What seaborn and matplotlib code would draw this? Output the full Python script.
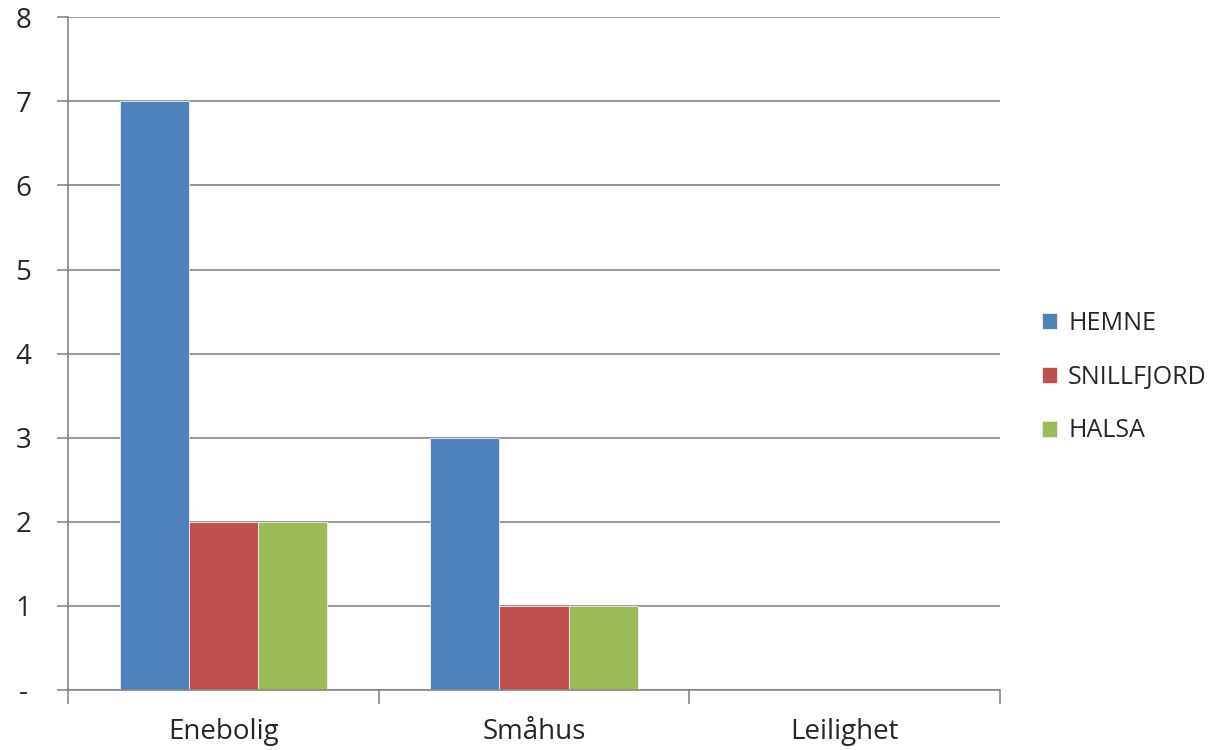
import matplotlib
matplotlib.use("Agg")
import matplotlib.pyplot as plt
import seaborn as sns
import pandas as pd

categories = ["Enebolig", "Småhus", "Leilighet"]
series = ["HEMNE", "SNILLFJORD", "HALSA"]
hemne = [7, 3, 0]
snillfjord = [2, 1, 0]
halsa = [2, 1, 0]
colors = ["#4F81BD", "#C0504D", "#9BBB59"]
ytick_labels = ["-", "1", "2", "3", "4", "5", "6", "7", "8"]

rows = []
for name, vals in zip(series, [hemne, snillfjord, halsa]):
    for cat, v in zip(categories, vals):
        rows.append({"Kategori": cat, "Kommune": name, "Antall": v})
df = pd.DataFrame(rows)

sns.set_style("white")
plt.rcParams["font.family"] = ["Open Sans", "DejaVu Sans"]

fig = plt.figure(figsize=(12.3, 7.5), dpi=100)
ax = fig.add_axes([0.0553, 0.08, 0.7577, 0.897])

sns.barplot(
    data=df,
    x="Kategori",
    y="Antall",
    hue="Kommune",
    palette=colors,
    width=0.667,
    gap=0,
    errorbar=None,
    edgecolor="#eeeeee",
    linewidth=0.6,
    saturation=1,
    ax=ax,
)

grid_col = "#868686"
ax.set_ylim(0, 8)
ax.set_xlim(-0.5, 2.5)
ax.set_yticks(range(9))
ax.set_yticklabels(ytick_labels)
ax.yaxis.grid(True, color=grid_col, linewidth=1.2)
ax.set_axisbelow(True)
for side in ["top", "right"]:
    ax.spines[side].set_visible(False)
for side in ["left", "bottom"]:
    ax.spines[side].set_color(grid_col)
    ax.spines[side].set_linewidth(1.2)

ax.set_xticks([-0.5, 0.5, 1.5, 2.5], minor=True)
ax.tick_params(axis="x", which="major", bottom=True, length=0, labelsize=20, pad=20)
ax.tick_params(axis="x", which="minor", bottom=True, length=10, color=grid_col, width=1.2)
ax.tick_params(axis="y", left=True, length=8, color=grid_col, width=1.2, labelsize=20, pad=24)
for lbl in ax.get_yticklabels():
    lbl.set_horizontalalignment("center")
ax.set_xlabel("")
ax.set_ylabel("")

handles, labels = ax.get_legend_handles_labels()
ax.legend(
    handles, labels,
    loc="center left",
    bbox_to_anchor=(1.045, 0.465),
    borderaxespad=0,
    borderpad=0,
    frameon=False,
    fontsize=18,
    handlelength=0.6,
    handleheight=0.6,
    handletextpad=0.45,
    labelspacing=1.15,
)

fig.savefig("out.png", dpi=100)
